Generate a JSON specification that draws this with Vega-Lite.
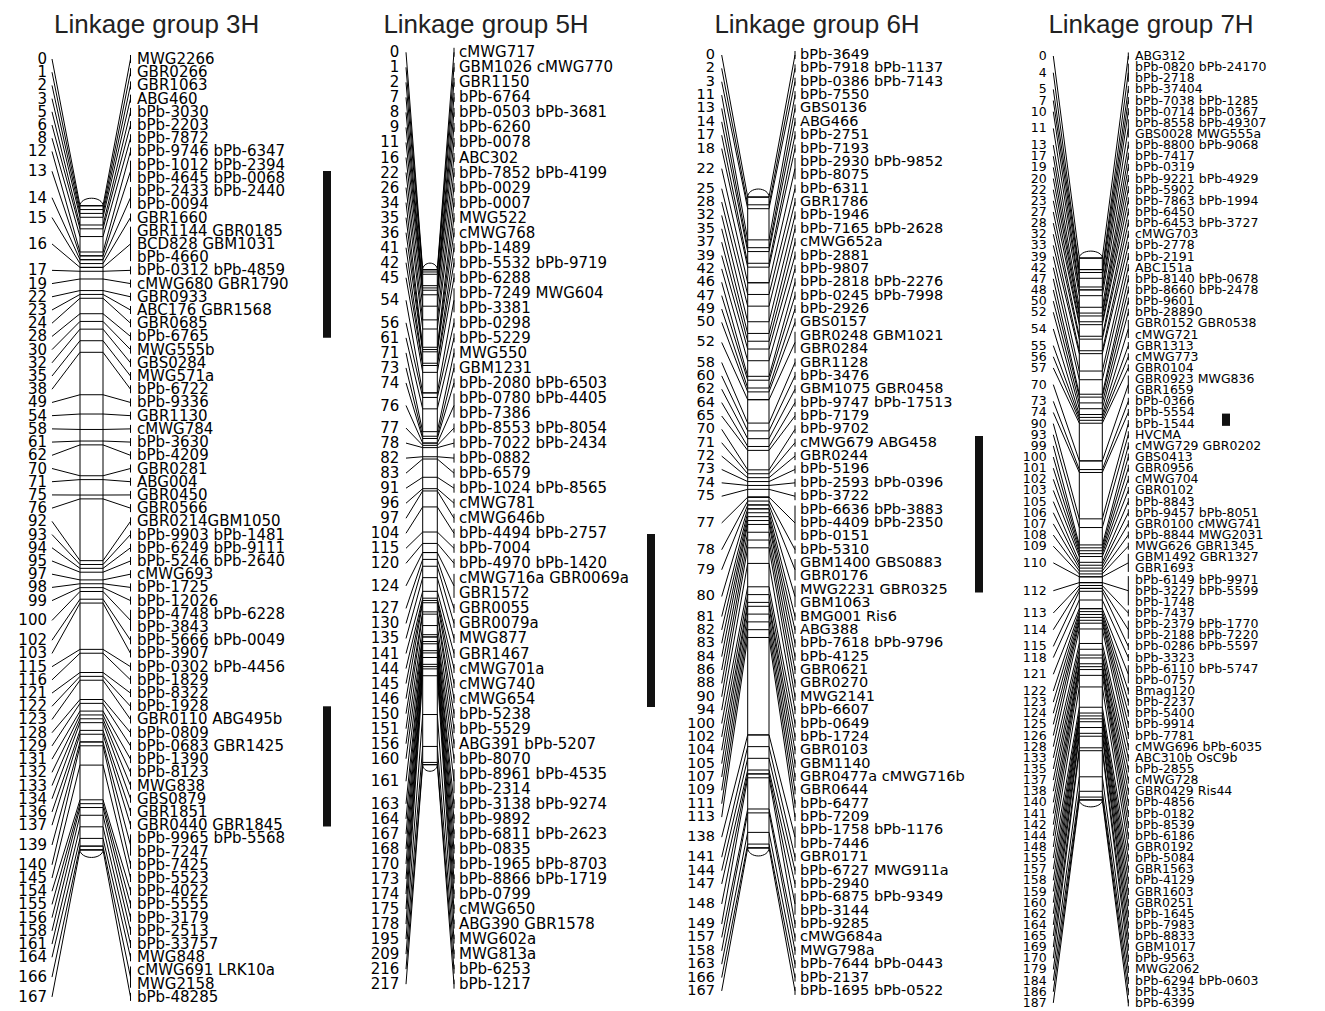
{
"$schema":"https://vega.github.io/schema/vega-lite/v6.json",
"padding":0,"spacing":0,"background":"white",
"config":{"view":{"stroke":null},"concat":{"spacing":0}},
"datasets":{
"qtl":[{"group":"3H","from":8.47,"to":21.1},{"group":"3H","from":49.0,"to":58.1},{"group":"5H","from":32.05,"to":43.56},{"group":"6H","from":28.5,"to":40.2},{"group":"7H","from":32.1,"to":33.2}],
"markers":[
{"group":"3H","row":0,"cM":0,"marker":"MWG2266"},
{"group":"3H","row":1,"cM":1,"marker":"GBR0266"},
{"group":"3H","row":2,"cM":2,"marker":"GBR1063"},
{"group":"3H","row":3,"cM":3,"marker":"ABG460"},
{"group":"3H","row":4,"cM":5,"marker":"bPb-3030"},
{"group":"3H","row":5,"cM":6,"marker":"bPb-2203"},
{"group":"3H","row":6,"cM":8,"marker":"bPb-7872"},
{"group":"3H","row":7,"cM":12,"marker":"bPb-9746 bPb-6347"},
{"group":"3H","row":8,"cM":13,"marker":"bPb-1012 bPb-2394"},
{"group":"3H","row":9,"cM":13,"marker":"bPb-4645 bPb-0068"},
{"group":"3H","row":10,"cM":14,"marker":"bPb-2433 bPb-2440"},
{"group":"3H","row":11,"cM":14,"marker":"bPb-0094"},
{"group":"3H","row":12,"cM":15,"marker":"GBR1660"},
{"group":"3H","row":13,"cM":16,"marker":"GBR1144 GBR0185"},
{"group":"3H","row":14,"cM":16,"marker":"BCD828 GBM1031"},
{"group":"3H","row":15,"cM":16,"marker":"bPb-4660"},
{"group":"3H","row":16,"cM":17,"marker":"bPb-0312 bPb-4859"},
{"group":"3H","row":17,"cM":19,"marker":"cMWG680 GBR1790"},
{"group":"3H","row":18,"cM":22,"marker":"GBR0933"},
{"group":"3H","row":19,"cM":23,"marker":"ABC176 GBR1568"},
{"group":"3H","row":20,"cM":24,"marker":"GBR0685"},
{"group":"3H","row":21,"cM":28,"marker":"bPb-6765"},
{"group":"3H","row":22,"cM":30,"marker":"MWG555b"},
{"group":"3H","row":23,"cM":32,"marker":"GBS0284"},
{"group":"3H","row":24,"cM":35,"marker":"MWG571a"},
{"group":"3H","row":25,"cM":38,"marker":"bPb-6722"},
{"group":"3H","row":26,"cM":49,"marker":"bPb-9336"},
{"group":"3H","row":27,"cM":54,"marker":"GBR1130"},
{"group":"3H","row":28,"cM":58,"marker":"cMWG784"},
{"group":"3H","row":29,"cM":61,"marker":"bPb-3630"},
{"group":"3H","row":30,"cM":62,"marker":"bPb-4209"},
{"group":"3H","row":31,"cM":70,"marker":"GBR0281"},
{"group":"3H","row":32,"cM":71,"marker":"ABG004"},
{"group":"3H","row":33,"cM":75,"marker":"GBR0450"},
{"group":"3H","row":34,"cM":76,"marker":"GBR0566"},
{"group":"3H","row":35,"cM":92,"marker":"GBR0214GBM1050"},
{"group":"3H","row":36,"cM":93,"marker":"bPb-9903 bPb-1481"},
{"group":"3H","row":37,"cM":94,"marker":"bPb-6249 bPb-9111"},
{"group":"3H","row":38,"cM":95,"marker":"bPb-5246 bPb-2640"},
{"group":"3H","row":39,"cM":97,"marker":"cMWG693"},
{"group":"3H","row":40,"cM":98,"marker":"bPb-1725"},
{"group":"3H","row":41,"cM":99,"marker":"bPb-12026"},
{"group":"3H","row":42,"cM":100,"marker":"bPb-4748 bPb-6228"},
{"group":"3H","row":43,"cM":100,"marker":"bPb-3843"},
{"group":"3H","row":44,"cM":102,"marker":"bPb-5666 bPb-0049"},
{"group":"3H","row":45,"cM":103,"marker":"bPb-3907"},
{"group":"3H","row":46,"cM":115,"marker":"bPb-0302 bPb-4456"},
{"group":"3H","row":47,"cM":116,"marker":"bPb-1829"},
{"group":"3H","row":48,"cM":121,"marker":"bPb-8322"},
{"group":"3H","row":49,"cM":122,"marker":"bPb-1928"},
{"group":"3H","row":50,"cM":123,"marker":"GBR0110 ABG495b"},
{"group":"3H","row":51,"cM":128,"marker":"bPb-0809"},
{"group":"3H","row":52,"cM":129,"marker":"bPb-0683 GBR1425"},
{"group":"3H","row":53,"cM":131,"marker":"bPb-1390"},
{"group":"3H","row":54,"cM":132,"marker":"bPb-8123"},
{"group":"3H","row":55,"cM":133,"marker":"MWG838"},
{"group":"3H","row":56,"cM":134,"marker":"GBS0879"},
{"group":"3H","row":57,"cM":136,"marker":"GBR1851"},
{"group":"3H","row":58,"cM":137,"marker":"GBR0440 GBR1845"},
{"group":"3H","row":59,"cM":139,"marker":"bPb-9965 bPb-5568"},
{"group":"3H","row":60,"cM":139,"marker":"bPb-7247"},
{"group":"3H","row":61,"cM":140,"marker":"bPb-7425"},
{"group":"3H","row":62,"cM":145,"marker":"bPb-5523"},
{"group":"3H","row":63,"cM":154,"marker":"bPb-4022"},
{"group":"3H","row":64,"cM":155,"marker":"bPb-5555"},
{"group":"3H","row":65,"cM":156,"marker":"bPb-3179"},
{"group":"3H","row":66,"cM":158,"marker":"bPb-2513"},
{"group":"3H","row":67,"cM":161,"marker":"bPb-33757"},
{"group":"3H","row":68,"cM":164,"marker":"MWG848"},
{"group":"3H","row":69,"cM":166,"marker":"cMWG691 LRK10a"},
{"group":"3H","row":70,"cM":166,"marker":"MWG2158"},
{"group":"3H","row":71,"cM":167,"marker":"bPb-48285"},
{"group":"5H","row":0,"cM":0,"marker":"cMWG717"},
{"group":"5H","row":1,"cM":1,"marker":"GBM1026 cMWG770"},
{"group":"5H","row":2,"cM":2,"marker":"GBR1150"},
{"group":"5H","row":3,"cM":7,"marker":"bPb-6764"},
{"group":"5H","row":4,"cM":8,"marker":"bPb-0503 bPb-3681"},
{"group":"5H","row":5,"cM":9,"marker":"bPb-6260"},
{"group":"5H","row":6,"cM":11,"marker":"bPb-0078"},
{"group":"5H","row":7,"cM":16,"marker":"ABC302"},
{"group":"5H","row":8,"cM":22,"marker":"bPb-7852 bPb-4199"},
{"group":"5H","row":9,"cM":26,"marker":"bPb-0029"},
{"group":"5H","row":10,"cM":34,"marker":"bPb-0007"},
{"group":"5H","row":11,"cM":35,"marker":"MWG522"},
{"group":"5H","row":12,"cM":36,"marker":"cMWG768"},
{"group":"5H","row":13,"cM":41,"marker":"bPb-1489"},
{"group":"5H","row":14,"cM":42,"marker":"bPb-5532 bPb-9719"},
{"group":"5H","row":15,"cM":45,"marker":"bPb-6288"},
{"group":"5H","row":16,"cM":54,"marker":"bPb-7249 MWG604"},
{"group":"5H","row":17,"cM":54,"marker":"bPb-3381"},
{"group":"5H","row":18,"cM":56,"marker":"bPb-0298"},
{"group":"5H","row":19,"cM":61,"marker":"bPb-5229"},
{"group":"5H","row":20,"cM":71,"marker":"MWG550"},
{"group":"5H","row":21,"cM":73,"marker":"GBM1231"},
{"group":"5H","row":22,"cM":74,"marker":"bPb-2080 bPb-6503"},
{"group":"5H","row":23,"cM":76,"marker":"bPb-0780 bPb-4405"},
{"group":"5H","row":24,"cM":76,"marker":"bPb-7386"},
{"group":"5H","row":25,"cM":77,"marker":"bPb-8553 bPb-8054"},
{"group":"5H","row":26,"cM":78,"marker":"bPb-7022 bPb-2434"},
{"group":"5H","row":27,"cM":82,"marker":"bPb-0882"},
{"group":"5H","row":28,"cM":83,"marker":"bPb-6579"},
{"group":"5H","row":29,"cM":91,"marker":"bPb-1024 bPb-8565"},
{"group":"5H","row":30,"cM":96,"marker":"cMWG781"},
{"group":"5H","row":31,"cM":97,"marker":"cMWG646b"},
{"group":"5H","row":32,"cM":104,"marker":"bPb-4494 bPb-2757"},
{"group":"5H","row":33,"cM":115,"marker":"bPb-7004"},
{"group":"5H","row":34,"cM":120,"marker":"bPb-4970 bPb-1420"},
{"group":"5H","row":35,"cM":124,"marker":"cMWG716a GBR0069a"},
{"group":"5H","row":36,"cM":124,"marker":"GBR1572"},
{"group":"5H","row":37,"cM":127,"marker":"GBR0055"},
{"group":"5H","row":38,"cM":130,"marker":"GBR0079a"},
{"group":"5H","row":39,"cM":135,"marker":"MWG877"},
{"group":"5H","row":40,"cM":141,"marker":"GBR1467"},
{"group":"5H","row":41,"cM":144,"marker":"cMWG701a"},
{"group":"5H","row":42,"cM":145,"marker":"cMWG740"},
{"group":"5H","row":43,"cM":146,"marker":"cMWG654"},
{"group":"5H","row":44,"cM":150,"marker":"bPb-5238"},
{"group":"5H","row":45,"cM":151,"marker":"bPb-5529"},
{"group":"5H","row":46,"cM":156,"marker":"ABG391 bPb-5207"},
{"group":"5H","row":47,"cM":160,"marker":"bPb-8070"},
{"group":"5H","row":48,"cM":161,"marker":"bPb-8961 bPb-4535"},
{"group":"5H","row":49,"cM":161,"marker":"bPb-2314"},
{"group":"5H","row":50,"cM":163,"marker":"bPb-3138 bPb-9274"},
{"group":"5H","row":51,"cM":164,"marker":"bPb-9892"},
{"group":"5H","row":52,"cM":167,"marker":"bPb-6811 bPb-2623"},
{"group":"5H","row":53,"cM":168,"marker":"bPb-0835"},
{"group":"5H","row":54,"cM":170,"marker":"bPb-1965 bPb-8703"},
{"group":"5H","row":55,"cM":173,"marker":"bPb-8866 bPb-1719"},
{"group":"5H","row":56,"cM":174,"marker":"bPb-0799"},
{"group":"5H","row":57,"cM":175,"marker":"cMWG650"},
{"group":"5H","row":58,"cM":178,"marker":"ABG390 GBR1578"},
{"group":"5H","row":59,"cM":195,"marker":"MWG602a"},
{"group":"5H","row":60,"cM":209,"marker":"MWG813a"},
{"group":"5H","row":61,"cM":216,"marker":"bPb-6253"},
{"group":"5H","row":62,"cM":217,"marker":"bPb-1217"},
{"group":"6H","row":0,"cM":0,"marker":"bPb-3649"},
{"group":"6H","row":1,"cM":2,"marker":"bPb-7918 bPb-1137"},
{"group":"6H","row":2,"cM":3,"marker":"bPb-0386 bPb-7143"},
{"group":"6H","row":3,"cM":11,"marker":"bPb-7550"},
{"group":"6H","row":4,"cM":13,"marker":"GBS0136"},
{"group":"6H","row":5,"cM":14,"marker":"ABG466"},
{"group":"6H","row":6,"cM":17,"marker":"bPb-2751"},
{"group":"6H","row":7,"cM":18,"marker":"bPb-7193"},
{"group":"6H","row":8,"cM":22,"marker":"bPb-2930 bPb-9852"},
{"group":"6H","row":9,"cM":22,"marker":"bPb-8075"},
{"group":"6H","row":10,"cM":25,"marker":"bPb-6311"},
{"group":"6H","row":11,"cM":28,"marker":"GBR1786"},
{"group":"6H","row":12,"cM":32,"marker":"bPb-1946"},
{"group":"6H","row":13,"cM":35,"marker":"bPb-7165 bPb-2628"},
{"group":"6H","row":14,"cM":37,"marker":"cMWG652a"},
{"group":"6H","row":15,"cM":39,"marker":"bPb-2881"},
{"group":"6H","row":16,"cM":42,"marker":"bPb-9807"},
{"group":"6H","row":17,"cM":46,"marker":"bPb-2818 bPb-2276"},
{"group":"6H","row":18,"cM":47,"marker":"bPb-0245 bPb-7998"},
{"group":"6H","row":19,"cM":49,"marker":"bPb-2926"},
{"group":"6H","row":20,"cM":50,"marker":"GBS0157"},
{"group":"6H","row":21,"cM":52,"marker":"GBR0248 GBM1021"},
{"group":"6H","row":22,"cM":52,"marker":"GBR0284"},
{"group":"6H","row":23,"cM":58,"marker":"GBR1128"},
{"group":"6H","row":24,"cM":60,"marker":"bPb-3476"},
{"group":"6H","row":25,"cM":62,"marker":"GBM1075 GBR0458"},
{"group":"6H","row":26,"cM":64,"marker":"bPb-9747 bPb-17513"},
{"group":"6H","row":27,"cM":65,"marker":"bPb-7179"},
{"group":"6H","row":28,"cM":70,"marker":"bPb-9702"},
{"group":"6H","row":29,"cM":71,"marker":"cMWG679 ABG458"},
{"group":"6H","row":30,"cM":72,"marker":"GBR0244"},
{"group":"6H","row":31,"cM":73,"marker":"bPb-5196"},
{"group":"6H","row":32,"cM":74,"marker":"bPb-2593 bPb-0396"},
{"group":"6H","row":33,"cM":75,"marker":"bPb-3722"},
{"group":"6H","row":34,"cM":77,"marker":"bPb-6636 bPb-3883"},
{"group":"6H","row":35,"cM":77,"marker":"bPb-4409 bPb-2350"},
{"group":"6H","row":36,"cM":77,"marker":"bPb-0151"},
{"group":"6H","row":37,"cM":78,"marker":"bPb-5310"},
{"group":"6H","row":38,"cM":79,"marker":"GBM1400 GBS0883"},
{"group":"6H","row":39,"cM":79,"marker":"GBR0176"},
{"group":"6H","row":40,"cM":80,"marker":"MWG2231 GBR0325"},
{"group":"6H","row":41,"cM":80,"marker":"GBM1063"},
{"group":"6H","row":42,"cM":81,"marker":"BMG001 Ris6"},
{"group":"6H","row":43,"cM":82,"marker":"ABG388"},
{"group":"6H","row":44,"cM":83,"marker":"bPb-7618 bPb-9796"},
{"group":"6H","row":45,"cM":84,"marker":"bPb-4125"},
{"group":"6H","row":46,"cM":86,"marker":"GBR0621"},
{"group":"6H","row":47,"cM":88,"marker":"GBR0270"},
{"group":"6H","row":48,"cM":90,"marker":"MWG2141"},
{"group":"6H","row":49,"cM":94,"marker":"bPb-6607"},
{"group":"6H","row":50,"cM":100,"marker":"bPb-0649"},
{"group":"6H","row":51,"cM":102,"marker":"bPb-1724"},
{"group":"6H","row":52,"cM":104,"marker":"GBR0103"},
{"group":"6H","row":53,"cM":105,"marker":"GBM1140"},
{"group":"6H","row":54,"cM":107,"marker":"GBR0477a cMWG716b"},
{"group":"6H","row":55,"cM":109,"marker":"GBR0644"},
{"group":"6H","row":56,"cM":111,"marker":"bPb-6477"},
{"group":"6H","row":57,"cM":113,"marker":"bPb-7209"},
{"group":"6H","row":58,"cM":138,"marker":"bPb-1758 bPb-1176"},
{"group":"6H","row":59,"cM":138,"marker":"bPb-7446"},
{"group":"6H","row":60,"cM":141,"marker":"GBR0171"},
{"group":"6H","row":61,"cM":144,"marker":"bPb-6727 MWG911a"},
{"group":"6H","row":62,"cM":147,"marker":"bPb-2940"},
{"group":"6H","row":63,"cM":148,"marker":"bPb-6875 bPb-9349"},
{"group":"6H","row":64,"cM":148,"marker":"bPb-3144"},
{"group":"6H","row":65,"cM":149,"marker":"bPb-9285"},
{"group":"6H","row":66,"cM":157,"marker":"cMWG684a"},
{"group":"6H","row":67,"cM":158,"marker":"MWG798a"},
{"group":"6H","row":68,"cM":163,"marker":"bPb-7644 bPb-0443"},
{"group":"6H","row":69,"cM":166,"marker":"bPb-2137"},
{"group":"6H","row":70,"cM":167,"marker":"bPb-1695 bPb-0522"},
{"group":"7H","row":0,"cM":0,"marker":"ABG312"},
{"group":"7H","row":1,"cM":4,"marker":"bPb-0820 bPb-24170"},
{"group":"7H","row":2,"cM":4,"marker":"bPb-2718"},
{"group":"7H","row":3,"cM":5,"marker":"bPb-37404"},
{"group":"7H","row":4,"cM":7,"marker":"bPb-7038 bPb-1285"},
{"group":"7H","row":5,"cM":10,"marker":"bPb-0714 bPb-0367"},
{"group":"7H","row":6,"cM":11,"marker":"bPb-8558 bPb-49307"},
{"group":"7H","row":7,"cM":11,"marker":"GBS0028 MWG555a"},
{"group":"7H","row":8,"cM":13,"marker":"bPb-8800 bPb-9068"},
{"group":"7H","row":9,"cM":17,"marker":"bPb-7417"},
{"group":"7H","row":10,"cM":19,"marker":"bPb-0319"},
{"group":"7H","row":11,"cM":20,"marker":"bPb-9221 bPb-4929"},
{"group":"7H","row":12,"cM":22,"marker":"bPb-5902"},
{"group":"7H","row":13,"cM":23,"marker":"bPb-7863 bPb-1994"},
{"group":"7H","row":14,"cM":27,"marker":"bPb-6450"},
{"group":"7H","row":15,"cM":28,"marker":"bPb-6453 bPb-3727"},
{"group":"7H","row":16,"cM":32,"marker":"cMWG703"},
{"group":"7H","row":17,"cM":33,"marker":"bPb-2778"},
{"group":"7H","row":18,"cM":39,"marker":"bPb-2191"},
{"group":"7H","row":19,"cM":42,"marker":"ABC151a"},
{"group":"7H","row":20,"cM":47,"marker":"bPb-8140 bPb-0678"},
{"group":"7H","row":21,"cM":48,"marker":"bPb-8660 bPb-2478"},
{"group":"7H","row":22,"cM":50,"marker":"bPb-9601"},
{"group":"7H","row":23,"cM":52,"marker":"bPb-28890"},
{"group":"7H","row":24,"cM":54,"marker":"GBR0152 GBR0538"},
{"group":"7H","row":25,"cM":54,"marker":"cMWG721"},
{"group":"7H","row":26,"cM":55,"marker":"GBR1313"},
{"group":"7H","row":27,"cM":56,"marker":"cMWG773"},
{"group":"7H","row":28,"cM":57,"marker":"GBR0104"},
{"group":"7H","row":29,"cM":70,"marker":"GBR0923 MWG836"},
{"group":"7H","row":30,"cM":70,"marker":"GBR1659"},
{"group":"7H","row":31,"cM":73,"marker":"bPb-0366"},
{"group":"7H","row":32,"cM":74,"marker":"bPb-5554"},
{"group":"7H","row":33,"cM":90,"marker":"bPb-1544"},
{"group":"7H","row":34,"cM":93,"marker":"HVCMA"},
{"group":"7H","row":35,"cM":99,"marker":"cMWG729 GBR0202"},
{"group":"7H","row":36,"cM":100,"marker":"GBS0413"},
{"group":"7H","row":37,"cM":101,"marker":"GBR0956"},
{"group":"7H","row":38,"cM":102,"marker":"cMWG704"},
{"group":"7H","row":39,"cM":103,"marker":"GBR0102"},
{"group":"7H","row":40,"cM":105,"marker":"bPb-8843"},
{"group":"7H","row":41,"cM":106,"marker":"bPb-9457 bPb-8051"},
{"group":"7H","row":42,"cM":107,"marker":"GBR0100 cMWG741"},
{"group":"7H","row":43,"cM":108,"marker":"bPb-8844 MWG2031"},
{"group":"7H","row":44,"cM":109,"marker":"MWG626 GBR1345"},
{"group":"7H","row":45,"cM":110,"marker":"GBM1492 GBR1327"},
{"group":"7H","row":46,"cM":110,"marker":"GBR1693"},
{"group":"7H","row":47,"cM":112,"marker":"bPb-6149 bPb-9971"},
{"group":"7H","row":48,"cM":112,"marker":"bPb-3227 bPb-5599"},
{"group":"7H","row":49,"cM":112,"marker":"bPb-1748"},
{"group":"7H","row":50,"cM":113,"marker":"bPb-7437"},
{"group":"7H","row":51,"cM":114,"marker":"bPb-2379 bPb-1770"},
{"group":"7H","row":52,"cM":114,"marker":"bPb-2188 bPb-7220"},
{"group":"7H","row":53,"cM":115,"marker":"bPb-0286 bPb-5597"},
{"group":"7H","row":54,"cM":118,"marker":"bPb-3323"},
{"group":"7H","row":55,"cM":121,"marker":"bPb-6110 bPb-5747"},
{"group":"7H","row":56,"cM":121,"marker":"bPb-0757"},
{"group":"7H","row":57,"cM":122,"marker":"Bmag120"},
{"group":"7H","row":58,"cM":123,"marker":"bPb-2237"},
{"group":"7H","row":59,"cM":124,"marker":"bPb-5400"},
{"group":"7H","row":60,"cM":125,"marker":"bPb-9914"},
{"group":"7H","row":61,"cM":126,"marker":"bPb-7781"},
{"group":"7H","row":62,"cM":128,"marker":"cMWG696 bPb-6035"},
{"group":"7H","row":63,"cM":133,"marker":"ABC310b OsC9b"},
{"group":"7H","row":64,"cM":135,"marker":"bPb-2855"},
{"group":"7H","row":65,"cM":137,"marker":"cMWG728"},
{"group":"7H","row":66,"cM":138,"marker":"GBR0429 Ris44"},
{"group":"7H","row":67,"cM":140,"marker":"bPb-4856"},
{"group":"7H","row":68,"cM":141,"marker":"bPb-0182"},
{"group":"7H","row":69,"cM":142,"marker":"bPb-8539"},
{"group":"7H","row":70,"cM":144,"marker":"bPb-6186"},
{"group":"7H","row":71,"cM":148,"marker":"GBR0192"},
{"group":"7H","row":72,"cM":155,"marker":"bPb-5084"},
{"group":"7H","row":73,"cM":157,"marker":"GBR1563"},
{"group":"7H","row":74,"cM":158,"marker":"bPb-4129"},
{"group":"7H","row":75,"cM":159,"marker":"GBR1603"},
{"group":"7H","row":76,"cM":160,"marker":"GBR0251"},
{"group":"7H","row":77,"cM":162,"marker":"bPb-1645"},
{"group":"7H","row":78,"cM":164,"marker":"bPb-7983"},
{"group":"7H","row":79,"cM":165,"marker":"bPb-8833"},
{"group":"7H","row":80,"cM":169,"marker":"GBM1017"},
{"group":"7H","row":81,"cM":170,"marker":"bPb-9563"},
{"group":"7H","row":82,"cM":179,"marker":"MWG2062"},
{"group":"7H","row":83,"cM":184,"marker":"bPb-6294 bPb-0603"},
{"group":"7H","row":84,"cM":186,"marker":"bPb-4335"},
{"group":"7H","row":85,"cM":187,"marker":"bPb-6399"}
]},
"hconcat":[
{"width":331,"height":1011,"data":{"name":"markers"},
"transform":[{"filter":"datum.group === '3H'"},{"calculate":"11.105 + 0.29205 * datum.cM","as":"barRow"}],
"layer":[
{"data":{"name":"qtl"},"transform":[{"filter":"datum.group === '3H'"}],"mark":{"type":"rect","fill":"#111111"},
"encoding":{"x":{"datum":323,"type":"quantitative","scale":{"domain":[0,331],"nice":false,"zero":false},"axis":null},"x2":{"datum":331},"y":{"field":"from","type":"quantitative","scale":{"domain":[-4.4663,72.067],"reverse":true,"nice":false,"zero":false},"axis":null},"y2":{"field":"to"}}},
{"transform":[{"aggregate":[{"op":"mean","field":"row","as":"mrow"},{"op":"min","field":"row","as":"r0"},{"op":"max","field":"row","as":"r1"}],"groupby":["cM","barRow"]}],
"layer":[
{"mark":{"type":"rule","stroke":"black","strokeWidth":1},"encoding":{"x":{"datum":52,"type":"quantitative","scale":{"domain":[0,331],"nice":false,"zero":false},"axis":null},"x2":{"datum":80},"y":{"field":"mrow","type":"quantitative","scale":{"domain":[-4.4663,72.067],"reverse":true,"nice":false,"zero":false},"axis":null},"y2":{"field":"barRow"}}},
{"mark":{"type":"rule","stroke":"black","strokeWidth":1},"encoding":{"x":{"datum":103,"type":"quantitative","scale":{"domain":[0,331],"nice":false,"zero":false},"axis":null},"x2":{"datum":130.5},"y":{"field":"barRow","type":"quantitative","scale":{"domain":[-4.4663,72.067],"reverse":true,"nice":false,"zero":false},"axis":null},"y2":{"field":"mrow"}}},
{"mark":{"type":"rule","stroke":"black","strokeWidth":1,"yOffset":-4,"y2Offset":4},"encoding":{"x":{"datum":130.5,"type":"quantitative","scale":{"domain":[0,331],"nice":false,"zero":false},"axis":null},"y":{"field":"r0","type":"quantitative","scale":{"domain":[-4.4663,72.067],"reverse":true,"nice":false,"zero":false},"axis":null},"y2":{"field":"r1"}}},
{"mark":{"type":"text","align":"right","baseline":"middle","font":"DejaVu Sans","fontSize":15,"fill":"black"},"encoding":{"x":{"datum":47,"type":"quantitative","scale":{"domain":[0,331],"nice":false,"zero":false},"axis":null},"y":{"field":"mrow","type":"quantitative","scale":{"domain":[-4.4663,72.067],"reverse":true,"nice":false,"zero":false},"axis":null},"text":{"field":"cM","type":"nominal"}}}
]},
{"transform":[{"aggregate":[{"op":"min","field":"barRow","as":"top"},{"op":"max","field":"barRow","as":"bot"}]}],
"layer":[
{"mark":{"type":"rect","fill":"white","stroke":"black","strokeWidth":1},"encoding":{"x":{"datum":80,"type":"quantitative","scale":{"domain":[0,331],"nice":false,"zero":false},"axis":null},"x2":{"datum":103},"y":{"field":"top","type":"quantitative","scale":{"domain":[-4.4663,72.067],"reverse":true,"nice":false,"zero":false},"axis":null},"y2":{"field":"bot"}}},
{"mark":{"type":"point","shape":"M-1,0A1,0.65,0,0,1,1,0Z","size":529,"filled":true,"fill":"white","stroke":"black","strokeWidth":1,"opacity":1},"encoding":{"x":{"datum":91.5,"type":"quantitative","scale":{"domain":[0,331],"nice":false,"zero":false},"axis":null},"y":{"field":"top","type":"quantitative","scale":{"domain":[-4.4663,72.067],"reverse":true,"nice":false,"zero":false},"axis":null}}},
{"mark":{"type":"point","shape":"M-1,0A1,0.65,0,0,0,1,0Z","size":529,"filled":true,"fill":"white","stroke":"black","strokeWidth":1,"opacity":1},"encoding":{"x":{"datum":91.5,"type":"quantitative","scale":{"domain":[0,331],"nice":false,"zero":false},"axis":null},"y":{"field":"bot","type":"quantitative","scale":{"domain":[-4.4663,72.067],"reverse":true,"nice":false,"zero":false},"axis":null}}}
]},
{"mark":{"type":"rule","stroke":"black","strokeWidth":1},"encoding":{"x":{"datum":80,"type":"quantitative","scale":{"domain":[0,331],"nice":false,"zero":false},"axis":null},"x2":{"datum":103},"y":{"field":"barRow","type":"quantitative","scale":{"domain":[-4.4663,72.067],"reverse":true,"nice":false,"zero":false},"axis":null}}},
{"mark":{"type":"text","align":"left","baseline":"middle","font":"DejaVu Sans","fontSize":15,"fill":"black"},"encoding":{"x":{"datum":137,"type":"quantitative","scale":{"domain":[0,331],"nice":false,"zero":false},"axis":null},"y":{"field":"row","type":"quantitative","scale":{"domain":[-4.4663,72.067],"reverse":true,"nice":false,"zero":false},"axis":null},"text":{"field":"marker","type":"nominal"}}},
{"data":{"values":[{"title":"Linkage group 3H"}]},"mark":{"type":"text","align":"center","baseline":"alphabetic","font":"Liberation Sans","fontSize":26,"fill":"#222222"},"encoding":{"x":{"datum":156.7,"type":"quantitative","scale":{"domain":[0,331],"nice":false,"zero":false},"axis":null},"y":{"datum":-1.946,"type":"quantitative","scale":{"domain":[-4.4663,72.067],"reverse":true,"nice":false,"zero":false},"axis":null},"text":{"field":"title","type":"nominal"}}}
]},
{"width":331,"height":1011,"data":{"name":"markers"},
"transform":[{"filter":"datum.group === '5H'"},{"calculate":"14.464 + 0.15177 * datum.cM","as":"barRow"}],
"layer":[
{"data":{"name":"qtl"},"transform":[{"filter":"datum.group === '5H'"}],"mark":{"type":"rect","fill":"#111111"},
"encoding":{"x":{"datum":316,"type":"quantitative","scale":{"domain":[0,331],"nice":false,"zero":false},"axis":null},"x2":{"datum":324},"y":{"field":"from","type":"quantitative","scale":{"domain":[-3.4797,63.785],"reverse":true,"nice":false,"zero":false},"axis":null},"y2":{"field":"to"}}},
{"transform":[{"aggregate":[{"op":"mean","field":"row","as":"mrow"},{"op":"min","field":"row","as":"r0"},{"op":"max","field":"row","as":"r1"}],"groupby":["cM","barRow"]}],
"layer":[
{"mark":{"type":"rule","stroke":"black","strokeWidth":1},"encoding":{"x":{"datum":75,"type":"quantitative","scale":{"domain":[0,331],"nice":false,"zero":false},"axis":null},"x2":{"datum":91.7},"y":{"field":"mrow","type":"quantitative","scale":{"domain":[-3.4797,63.785],"reverse":true,"nice":false,"zero":false},"axis":null},"y2":{"field":"barRow"}}},
{"mark":{"type":"rule","stroke":"black","strokeWidth":1},"encoding":{"x":{"datum":106.3,"type":"quantitative","scale":{"domain":[0,331],"nice":false,"zero":false},"axis":null},"x2":{"datum":123},"y":{"field":"barRow","type":"quantitative","scale":{"domain":[-3.4797,63.785],"reverse":true,"nice":false,"zero":false},"axis":null},"y2":{"field":"mrow"}}},
{"mark":{"type":"rule","stroke":"black","strokeWidth":1,"yOffset":-4.5,"y2Offset":4.5},"encoding":{"x":{"datum":123,"type":"quantitative","scale":{"domain":[0,331],"nice":false,"zero":false},"axis":null},"y":{"field":"r0","type":"quantitative","scale":{"domain":[-3.4797,63.785],"reverse":true,"nice":false,"zero":false},"axis":null},"y2":{"field":"r1"}}},
{"mark":{"type":"text","align":"right","baseline":"middle","font":"DejaVu Sans","fontSize":15,"fill":"black"},"encoding":{"x":{"datum":68.3,"type":"quantitative","scale":{"domain":[0,331],"nice":false,"zero":false},"axis":null},"y":{"field":"mrow","type":"quantitative","scale":{"domain":[-3.4797,63.785],"reverse":true,"nice":false,"zero":false},"axis":null},"text":{"field":"cM","type":"nominal"}}}
]},
{"transform":[{"aggregate":[{"op":"min","field":"barRow","as":"top"},{"op":"max","field":"barRow","as":"bot"}]}],
"layer":[
{"mark":{"type":"rect","fill":"white","stroke":"black","strokeWidth":1},"encoding":{"x":{"datum":91.7,"type":"quantitative","scale":{"domain":[0,331],"nice":false,"zero":false},"axis":null},"x2":{"datum":106.3},"y":{"field":"top","type":"quantitative","scale":{"domain":[-3.4797,63.785],"reverse":true,"nice":false,"zero":false},"axis":null},"y2":{"field":"bot"}}},
{"mark":{"type":"point","shape":"M-1,0A1,0.9,0,0,1,1,0Z","size":213,"filled":true,"fill":"white","stroke":"black","strokeWidth":1,"opacity":1},"encoding":{"x":{"datum":99,"type":"quantitative","scale":{"domain":[0,331],"nice":false,"zero":false},"axis":null},"y":{"field":"top","type":"quantitative","scale":{"domain":[-3.4797,63.785],"reverse":true,"nice":false,"zero":false},"axis":null}}},
{"mark":{"type":"point","shape":"M-1,0A1,0.9,0,0,0,1,0Z","size":213,"filled":true,"fill":"white","stroke":"black","strokeWidth":1,"opacity":1},"encoding":{"x":{"datum":99,"type":"quantitative","scale":{"domain":[0,331],"nice":false,"zero":false},"axis":null},"y":{"field":"bot","type":"quantitative","scale":{"domain":[-3.4797,63.785],"reverse":true,"nice":false,"zero":false},"axis":null}}}
]},
{"mark":{"type":"rule","stroke":"black","strokeWidth":1},"encoding":{"x":{"datum":91.7,"type":"quantitative","scale":{"domain":[0,331],"nice":false,"zero":false},"axis":null},"x2":{"datum":106.3},"y":{"field":"barRow","type":"quantitative","scale":{"domain":[-3.4797,63.785],"reverse":true,"nice":false,"zero":false},"axis":null}}},
{"mark":{"type":"text","align":"left","baseline":"middle","font":"DejaVu Sans","fontSize":15,"fill":"black"},"encoding":{"x":{"datum":128,"type":"quantitative","scale":{"domain":[0,331],"nice":false,"zero":false},"axis":null},"y":{"field":"row","type":"quantitative","scale":{"domain":[-3.4797,63.785],"reverse":true,"nice":false,"zero":false},"axis":null},"text":{"field":"marker","type":"nominal"}}},
{"data":{"values":[{"title":"Linkage group 5H"}]},"mark":{"type":"text","align":"center","baseline":"alphabetic","font":"Liberation Sans","fontSize":26,"fill":"#222222"},"encoding":{"x":{"datum":155,"type":"quantitative","scale":{"domain":[0,331],"nice":false,"zero":false},"axis":null},"y":{"datum":-1.264,"type":"quantitative","scale":{"domain":[-3.4797,63.785],"reverse":true,"nice":false,"zero":false},"axis":null},"text":{"field":"title","type":"nominal"}}}
]},
{"width":331,"height":1011,"data":{"name":"markers"},
"transform":[{"filter":"datum.group === '6H'"},{"calculate":"10.621 + 0.29155 * datum.cM","as":"barRow"}],
"layer":[
{"data":{"name":"qtl"},"transform":[{"filter":"datum.group === '6H'"}],"mark":{"type":"rect","fill":"#111111"},
"encoding":{"x":{"datum":313,"type":"quantitative","scale":{"domain":[0,331],"nice":false,"zero":false},"axis":null},"x2":{"datum":321},"y":{"field":"from","type":"quantitative","scale":{"domain":[-4.1137,71.503],"reverse":true,"nice":false,"zero":false},"axis":null},"y2":{"field":"to"}}},
{"transform":[{"aggregate":[{"op":"mean","field":"row","as":"mrow"},{"op":"min","field":"row","as":"r0"},{"op":"max","field":"row","as":"r1"}],"groupby":["cM","barRow"]}],
"layer":[
{"mark":{"type":"rule","stroke":"black","strokeWidth":1},"encoding":{"x":{"datum":59.7,"type":"quantitative","scale":{"domain":[0,331],"nice":false,"zero":false},"axis":null},"x2":{"datum":85.7},"y":{"field":"mrow","type":"quantitative","scale":{"domain":[-4.1137,71.503],"reverse":true,"nice":false,"zero":false},"axis":null},"y2":{"field":"barRow"}}},
{"mark":{"type":"rule","stroke":"black","strokeWidth":1},"encoding":{"x":{"datum":107,"type":"quantitative","scale":{"domain":[0,331],"nice":false,"zero":false},"axis":null},"x2":{"datum":133},"y":{"field":"barRow","type":"quantitative","scale":{"domain":[-4.1137,71.503],"reverse":true,"nice":false,"zero":false},"axis":null},"y2":{"field":"mrow"}}},
{"mark":{"type":"rule","stroke":"black","strokeWidth":1,"yOffset":-4,"y2Offset":4},"encoding":{"x":{"datum":133,"type":"quantitative","scale":{"domain":[0,331],"nice":false,"zero":false},"axis":null},"y":{"field":"r0","type":"quantitative","scale":{"domain":[-4.1137,71.503],"reverse":true,"nice":false,"zero":false},"axis":null},"y2":{"field":"r1"}}},
{"mark":{"type":"text","align":"right","baseline":"middle","font":"DejaVu Sans","fontSize":14.5,"fill":"black"},"encoding":{"x":{"datum":53,"type":"quantitative","scale":{"domain":[0,331],"nice":false,"zero":false},"axis":null},"y":{"field":"mrow","type":"quantitative","scale":{"domain":[-4.1137,71.503],"reverse":true,"nice":false,"zero":false},"axis":null},"text":{"field":"cM","type":"nominal"}}}
]},
{"transform":[{"aggregate":[{"op":"min","field":"barRow","as":"top"},{"op":"max","field":"barRow","as":"bot"}]}],
"layer":[
{"mark":{"type":"rect","fill":"white","stroke":"black","strokeWidth":1},"encoding":{"x":{"datum":85.7,"type":"quantitative","scale":{"domain":[0,331],"nice":false,"zero":false},"axis":null},"x2":{"datum":107},"y":{"field":"top","type":"quantitative","scale":{"domain":[-4.1137,71.503],"reverse":true,"nice":false,"zero":false},"axis":null},"y2":{"field":"bot"}}},
{"mark":{"type":"point","shape":"M-1,0A1,0.75,0,0,1,1,0Z","size":454,"filled":true,"fill":"white","stroke":"black","strokeWidth":1,"opacity":1},"encoding":{"x":{"datum":96.35,"type":"quantitative","scale":{"domain":[0,331],"nice":false,"zero":false},"axis":null},"y":{"field":"top","type":"quantitative","scale":{"domain":[-4.1137,71.503],"reverse":true,"nice":false,"zero":false},"axis":null}}},
{"mark":{"type":"point","shape":"M-1,0A1,0.75,0,0,0,1,0Z","size":454,"filled":true,"fill":"white","stroke":"black","strokeWidth":1,"opacity":1},"encoding":{"x":{"datum":96.35,"type":"quantitative","scale":{"domain":[0,331],"nice":false,"zero":false},"axis":null},"y":{"field":"bot","type":"quantitative","scale":{"domain":[-4.1137,71.503],"reverse":true,"nice":false,"zero":false},"axis":null}}}
]},
{"mark":{"type":"rule","stroke":"black","strokeWidth":1},"encoding":{"x":{"datum":85.7,"type":"quantitative","scale":{"domain":[0,331],"nice":false,"zero":false},"axis":null},"x2":{"datum":107},"y":{"field":"barRow","type":"quantitative","scale":{"domain":[-4.1137,71.503],"reverse":true,"nice":false,"zero":false},"axis":null}}},
{"mark":{"type":"text","align":"left","baseline":"middle","font":"DejaVu Sans","fontSize":14.5,"fill":"black"},"encoding":{"x":{"datum":138,"type":"quantitative","scale":{"domain":[0,331],"nice":false,"zero":false},"axis":null},"y":{"field":"row","type":"quantitative","scale":{"domain":[-4.1137,71.503],"reverse":true,"nice":false,"zero":false},"axis":null},"text":{"field":"marker","type":"nominal"}}},
{"data":{"values":[{"title":"Linkage group 6H"}]},"mark":{"type":"text","align":"center","baseline":"alphabetic","font":"Liberation Sans","fontSize":26,"fill":"#222222"},"encoding":{"x":{"datum":155,"type":"quantitative","scale":{"domain":[0,331],"nice":false,"zero":false},"axis":null},"y":{"datum":-1.623,"type":"quantitative","scale":{"domain":[-4.1137,71.503],"reverse":true,"nice":false,"zero":false},"axis":null},"text":{"field":"title","type":"nominal"}}}
]},
{"width":332,"height":1011,"data":{"name":"markers"},
"transform":[{"filter":"datum.group === '7H'"},{"calculate":"18.133 + 0.26017 * datum.cM","as":"barRow"}],
"layer":[
{"data":{"name":"qtl"},"transform":[{"filter":"datum.group === '7H'"}],"mark":{"type":"rect","fill":"#111111"},
"encoding":{"x":{"datum":229,"type":"quantitative","scale":{"domain":[0,332],"nice":false,"zero":false},"axis":null},"x2":{"datum":237},"y":{"field":"from","type":"quantitative","scale":{"domain":[-5.0269,85.727],"reverse":true,"nice":false,"zero":false},"axis":null},"y2":{"field":"to"}}},
{"transform":[{"aggregate":[{"op":"mean","field":"row","as":"mrow"},{"op":"min","field":"row","as":"r0"},{"op":"max","field":"row","as":"r1"}],"groupby":["cM","barRow"]}],
"layer":[
{"mark":{"type":"rule","stroke":"black","strokeWidth":1},"encoding":{"x":{"datum":60.3,"type":"quantitative","scale":{"domain":[0,332],"nice":false,"zero":false},"axis":null},"x2":{"datum":86.3},"y":{"field":"mrow","type":"quantitative","scale":{"domain":[-5.0269,85.727],"reverse":true,"nice":false,"zero":false},"axis":null},"y2":{"field":"barRow"}}},
{"mark":{"type":"rule","stroke":"black","strokeWidth":1},"encoding":{"x":{"datum":109.3,"type":"quantitative","scale":{"domain":[0,332],"nice":false,"zero":false},"axis":null},"x2":{"datum":135.3},"y":{"field":"barRow","type":"quantitative","scale":{"domain":[-5.0269,85.727],"reverse":true,"nice":false,"zero":false},"axis":null},"y2":{"field":"mrow"}}},
{"mark":{"type":"rule","stroke":"black","strokeWidth":1,"yOffset":-3.5,"y2Offset":3.5},"encoding":{"x":{"datum":135.3,"type":"quantitative","scale":{"domain":[0,332],"nice":false,"zero":false},"axis":null},"y":{"field":"r0","type":"quantitative","scale":{"domain":[-5.0269,85.727],"reverse":true,"nice":false,"zero":false},"axis":null},"y2":{"field":"r1"}}},
{"mark":{"type":"text","align":"right","baseline":"middle","font":"DejaVu Sans","fontSize":12.5,"fill":"black"},"encoding":{"x":{"datum":53.7,"type":"quantitative","scale":{"domain":[0,332],"nice":false,"zero":false},"axis":null},"y":{"field":"mrow","type":"quantitative","scale":{"domain":[-5.0269,85.727],"reverse":true,"nice":false,"zero":false},"axis":null},"text":{"field":"cM","type":"nominal"}}}
]},
{"transform":[{"aggregate":[{"op":"min","field":"barRow","as":"top"},{"op":"max","field":"barRow","as":"bot"}]}],
"layer":[
{"mark":{"type":"rect","fill":"white","stroke":"black","strokeWidth":1},"encoding":{"x":{"datum":86.3,"type":"quantitative","scale":{"domain":[0,332],"nice":false,"zero":false},"axis":null},"x2":{"datum":109.3},"y":{"field":"top","type":"quantitative","scale":{"domain":[-5.0269,85.727],"reverse":true,"nice":false,"zero":false},"axis":null},"y2":{"field":"bot"}}},
{"mark":{"type":"point","shape":"M-1,0A1,0.6,0,0,1,1,0Z","size":529,"filled":true,"fill":"white","stroke":"black","strokeWidth":1,"opacity":1},"encoding":{"x":{"datum":97.8,"type":"quantitative","scale":{"domain":[0,332],"nice":false,"zero":false},"axis":null},"y":{"field":"top","type":"quantitative","scale":{"domain":[-5.0269,85.727],"reverse":true,"nice":false,"zero":false},"axis":null}}},
{"mark":{"type":"point","shape":"M-1,0A1,0.6,0,0,0,1,0Z","size":529,"filled":true,"fill":"white","stroke":"black","strokeWidth":1,"opacity":1},"encoding":{"x":{"datum":97.8,"type":"quantitative","scale":{"domain":[0,332],"nice":false,"zero":false},"axis":null},"y":{"field":"bot","type":"quantitative","scale":{"domain":[-5.0269,85.727],"reverse":true,"nice":false,"zero":false},"axis":null}}}
]},
{"mark":{"type":"rule","stroke":"black","strokeWidth":1},"encoding":{"x":{"datum":86.3,"type":"quantitative","scale":{"domain":[0,332],"nice":false,"zero":false},"axis":null},"x2":{"datum":109.3},"y":{"field":"barRow","type":"quantitative","scale":{"domain":[-5.0269,85.727],"reverse":true,"nice":false,"zero":false},"axis":null}}},
{"mark":{"type":"text","align":"left","baseline":"middle","font":"DejaVu Sans","fontSize":12.5,"fill":"black"},"encoding":{"x":{"datum":142,"type":"quantitative","scale":{"domain":[0,332],"nice":false,"zero":false},"axis":null},"y":{"field":"row","type":"quantitative","scale":{"domain":[-5.0269,85.727],"reverse":true,"nice":false,"zero":false},"axis":null},"text":{"field":"marker","type":"nominal"}}},
{"data":{"values":[{"title":"Linkage group 7H"}]},"mark":{"type":"text","align":"center","baseline":"alphabetic","font":"Liberation Sans","fontSize":26,"fill":"#222222"},"encoding":{"x":{"datum":158,"type":"quantitative","scale":{"domain":[0,332],"nice":false,"zero":false},"axis":null},"y":{"datum":-2.038,"type":"quantitative","scale":{"domain":[-5.0269,85.727],"reverse":true,"nice":false,"zero":false},"axis":null},"text":{"field":"title","type":"nominal"}}}
]}
]
}
